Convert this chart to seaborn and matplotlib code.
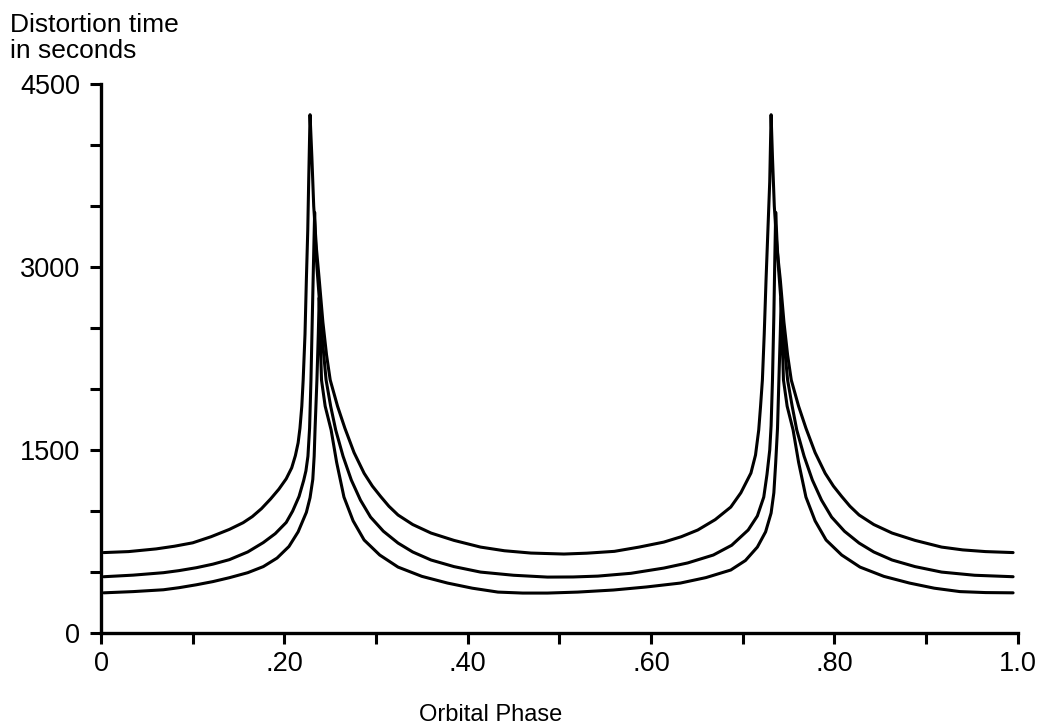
import matplotlib
matplotlib.use("Agg")
import matplotlib.pyplot as plt
import pandas as pd
import seaborn as sns


# =========================
# Data
# =========================
phase_top = [0.003, 0.03, 0.06, 0.08, 0.10, 0.12, 0.14, 0.155, 0.165, 0.175,
             0.185, 0.194, 0.202, 0.208, 0.212, 0.215, 0.217, 0.219, 0.2205,
             0.2225, 0.224, 0.2255, 0.2265, 0.228, 0.230, 0.232, 0.235, 0.238,
             0.242, 0.246, 0.250, 0.258, 0.266, 0.276, 0.287, 0.296, 0.305,
             0.314, 0.324, 0.34, 0.36, 0.385, 0.414, 0.44, 0.469, 0.505, 0.53,
             0.56, 0.587, 0.614, 0.633, 0.651, 0.67, 0.687, 0.698, 0.709, 0.714,
             0.7175, 0.7195, 0.7215, 0.7235, 0.7255, 0.7275, 0.7295, 0.731,
             0.7325, 0.7345, 0.7375, 0.741, 0.745, 0.749, 0.753, 0.761, 0.769,
             0.779, 0.790, 0.799, 0.808, 0.817, 0.827, 0.843, 0.863, 0.888,
             0.917, 0.94, 0.965, 0.995]
time_top = [660, 668, 690, 712, 740, 790, 850, 905, 955, 1020,
            1100, 1180, 1265, 1355, 1455, 1560, 1680, 1860, 2075,
            2450, 2900, 3300, 3700, 4250, 3900, 3500, 3150, 2900,
            2550, 2280, 2075, 1860, 1680, 1480, 1310, 1205, 1120,
            1040, 968, 890, 820, 760, 705, 675, 656, 648, 655,
            670, 705, 746, 790, 845, 930, 1033, 1150, 1312, 1460,
            1665, 1860, 2075, 2450, 2900, 3300, 3700, 4250,
            3900, 3500, 3150, 2900, 2550, 2280, 2075, 1860, 1680,
            1480, 1310, 1205, 1120, 1040, 968, 890, 820, 760,
            705, 682, 668, 660]

phase_mid = [0.003, 0.035, 0.068, 0.085, 0.104, 0.122, 0.14, 0.16, 0.177,
             0.19, 0.202, 0.209, 0.216, 0.221, 0.2235, 0.2257, 0.2275, 0.229,
             0.2305, 0.2318, 0.233, 0.234, 0.2355, 0.2375, 0.2415, 0.2455,
             0.2505, 0.256, 0.264, 0.273, 0.283, 0.294, 0.308, 0.324, 0.34,
             0.36, 0.385, 0.414, 0.45, 0.487, 0.515, 0.542, 0.578, 0.614, 0.64,
             0.668, 0.688, 0.706, 0.716, 0.723, 0.7265, 0.7295, 0.731, 0.7325,
             0.734, 0.735, 0.736, 0.7375, 0.739, 0.741, 0.745, 0.749, 0.754,
             0.759, 0.767, 0.776, 0.786, 0.797, 0.811, 0.827, 0.843, 0.863,
             0.888, 0.917, 0.953, 0.995]
time_mid = [462, 475, 495, 512, 536, 565, 602, 665, 742,
            815, 907, 1000, 1120, 1250, 1330, 1450, 1680, 2075,
            2600, 3050, 3450, 3200, 3000, 2800, 2400, 2075,
            1860, 1665, 1450, 1255, 1090, 951, 835, 738, 665,
            599, 545, 500, 474, 459, 460, 467, 490, 533, 575,
            640, 720, 845, 960, 1115, 1300, 1500, 1700, 2075,
            2600, 3050, 3450, 3200, 3000, 2800, 2400, 2075, 1860,
            1665, 1450, 1255, 1090, 951, 835, 738, 665, 599,
            545, 500, 474, 462]

phase_bot = [0.003, 0.035, 0.068, 0.085, 0.104, 0.122, 0.14, 0.16, 0.177,
             0.192, 0.205, 0.215, 0.224, 0.228, 0.231, 0.2325, 0.2335, 0.2355,
             0.237, 0.238, 0.239, 0.2405, 0.2445, 0.251, 0.257, 0.265, 0.275,
             0.287, 0.304, 0.324, 0.35, 0.378, 0.405, 0.433, 0.46, 0.487, 0.52,
             0.559, 0.595, 0.632, 0.66, 0.687, 0.703, 0.716, 0.725, 0.731,
             0.734, 0.736, 0.738, 0.7395, 0.741, 0.742, 0.743, 0.7445, 0.7485,
             0.755, 0.761, 0.769, 0.779, 0.791, 0.808, 0.828, 0.854, 0.882,
             0.909, 0.937, 0.965, 0.995]
time_bot = [330, 340, 355, 372, 396, 422, 454, 495, 545,
            615, 710, 830, 990, 1110, 1260, 1450, 1680, 2075,
            2450, 2750, 2450, 2075, 1860, 1665, 1400, 1115, 920,
            763, 640, 541, 465, 410, 368, 336, 328, 328, 336,
            353, 378, 410, 455, 517, 595, 705, 830, 984,
            1150, 1394, 1680, 2075, 2450, 2750, 2450, 2075, 1860,
            1665, 1400, 1115, 920, 763, 640, 541, 465, 410,
            368, 340, 332, 330]

x_ticks = [0, 0.1, 0.2, 0.3, 0.4, 0.5, 0.6, 0.7, 0.8, 0.9, 1.0]
x_tick_labels = ["0", "", ".20", "", ".40", "", ".60", "", ".80", "", "1.0"]
y_ticks = [0, 500, 1000, 1500, 2000, 2500, 3000, 3500, 4000, 4500]
y_tick_labels = ["0", "", "", "1500", "", "", "3000", "", "", "4500"]


# =========================
# Plot
# =========================
sns.set_style("ticks")
plt.rcParams["font.family"] = ["Liberation Sans", "DejaVu Sans"]

fig = plt.figure(figsize=(10.56, 7.26), dpi=100)
ax = fig.add_axes([0.0957, 0.128, 0.868, 0.756])

for phase, t in [(phase_top, time_top), (phase_mid, time_mid), (phase_bot, time_bot)]:
    df = pd.DataFrame({"phase": phase, "time": t})
    sns.lineplot(data=df, x="phase", y="time", color="black", linewidth=2.2,
                 sort=False, estimator=None, ax=ax)

ax.set_xlim(0, 1.0)
ax.set_ylim(0, 4500)
ax.set_xticks(x_ticks)
ax.set_xticklabels(x_tick_labels, fontsize=19.5, color="black")
ax.set_yticks(y_ticks)
ax.set_yticklabels(y_tick_labels, fontsize=19.5, color="black")
ax.tick_params(axis="both", direction="out", length=8, width=2.2, color="black")
ax.tick_params(axis="x", pad=5)
ax.tick_params(axis="y", pad=7)

for side in ["top", "right"]:
    ax.spines[side].set_visible(False)
for side in ["left", "bottom"]:
    ax.spines[side].set_linewidth(2.4)
    ax.spines[side].set_color("black")

ax.set_xlabel("Orbital Phase", fontsize=17, color="black")
ax.xaxis.set_label_coords(0.4245, -0.13)
ax.set_ylabel("")

fig.text(0.009, 0.982, "Distortion time\nin seconds", fontsize=19,
         ha="left", va="top", linespacing=1.1, color="black")

plt.savefig("out.png", dpi=100)
plt.close()
